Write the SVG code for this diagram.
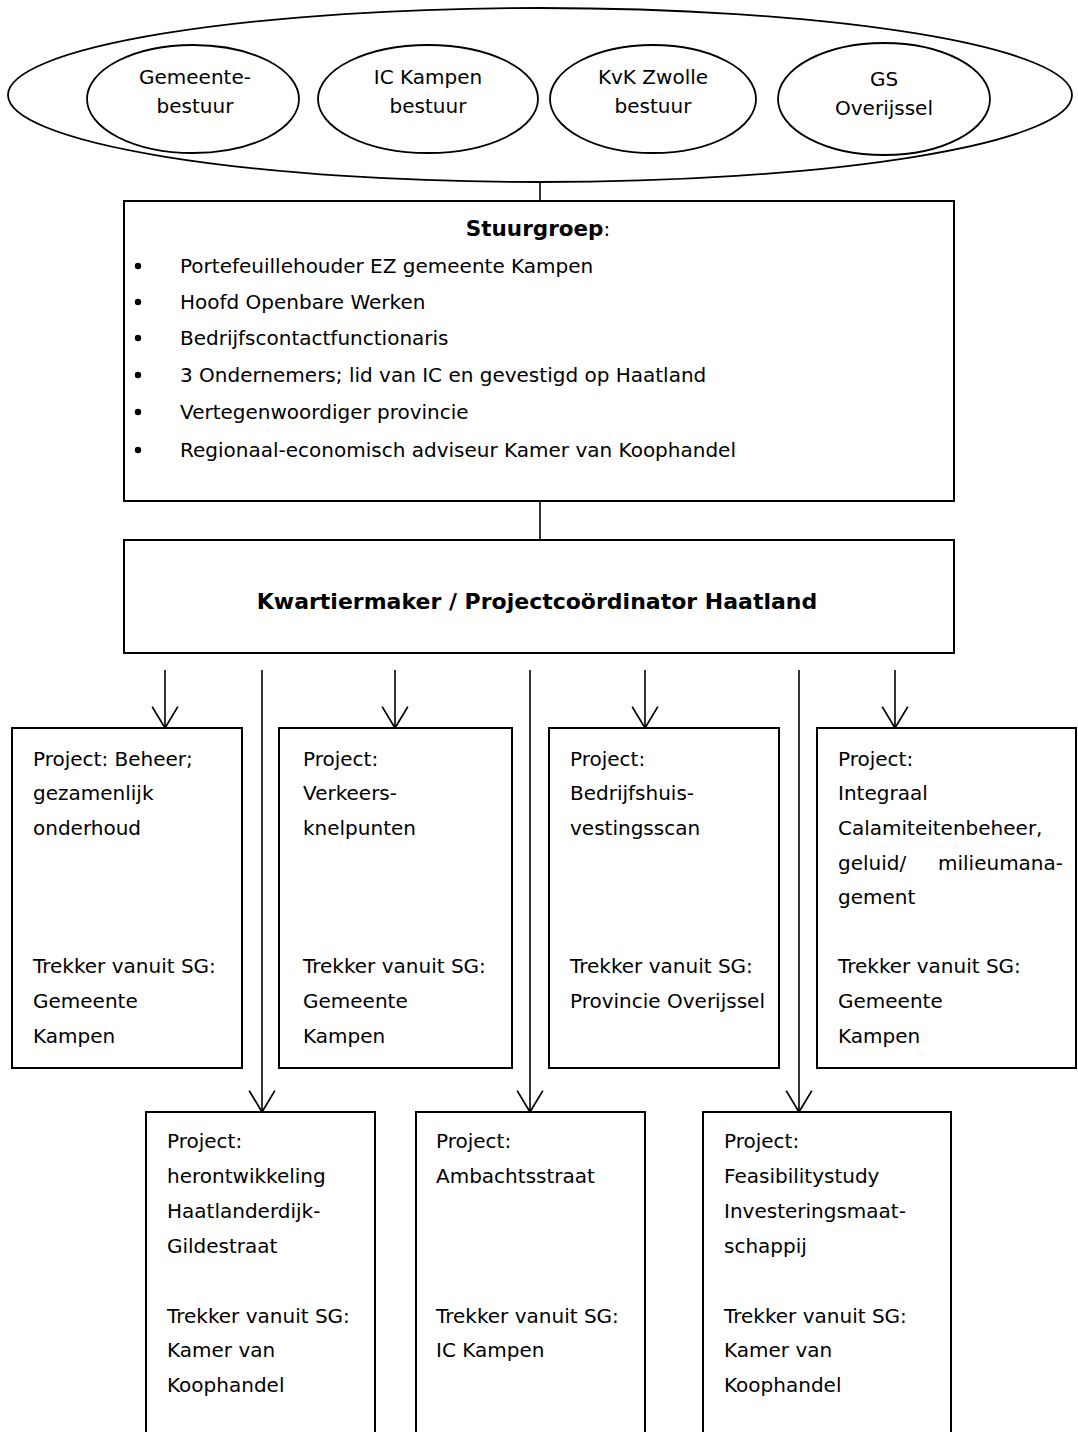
<svg xmlns="http://www.w3.org/2000/svg" width="1078" height="1432" viewBox="0 0 1078 1432">
<style>
.shape{fill:#fff;stroke:#000;stroke-width:2}
.ell{fill:none;stroke:#000;stroke-width:1.8}
.t{font-family:"DejaVu Sans",Verdana,sans-serif;font-size:20px;fill:#000}
.c{text-anchor:middle}
.b{font-weight:bold}
.h{font-size:21.5px}
.k{font-size:22px}
.con{fill:none;stroke:#000;stroke-width:1.6}
</style>
<defs>
<marker id="vee" markerUnits="userSpaceOnUse" markerWidth="30" markerHeight="30" refX="0" refY="0" orient="auto" viewBox="-22 -14 24 28" overflow="visible">
<path d="M-20,-12 L0,0 L-20,12" fill="none" stroke="#000" stroke-width="1.6"/>
</marker>
</defs>

<g id="connectors">
<line class="con" x1="540" y1="182" x2="540" y2="201"/>
<line class="con" x1="540" y1="501" x2="540" y2="540"/>
<line class="con" x1="165" y1="670" x2="165" y2="728" marker-end="url(#vee)"/>
<line class="con" x1="395" y1="670" x2="395" y2="728" marker-end="url(#vee)"/>
<line class="con" x1="645" y1="670" x2="645" y2="728" marker-end="url(#vee)"/>
<line class="con" x1="895" y1="670" x2="895" y2="728" marker-end="url(#vee)"/>
<line class="con" x1="262" y1="670" x2="262" y2="1112" marker-end="url(#vee)"/>
<line class="con" x1="530" y1="670" x2="530" y2="1112" marker-end="url(#vee)"/>
<line class="con" x1="799" y1="670" x2="799" y2="1112" marker-end="url(#vee)"/>
</g>

<g id="besturen">
<ellipse class="ell" cx="540" cy="95" rx="532" ry="87"/>
</g>
<g id="gemeentebestuur">
<ellipse class="ell" cx="193" cy="99" rx="106" ry="54"/>
<text class="t c" x="195" y="84">Gemeente-</text>
<text class="t c" x="195" y="113">bestuur</text>
</g>
<g id="ic-kampen">
<ellipse class="ell" cx="428" cy="99" rx="110" ry="54"/>
<text class="t c" x="428" y="84">IC Kampen</text>
<text class="t c" x="428" y="113">bestuur</text>
</g>
<g id="kvk-zwolle">
<ellipse class="ell" cx="653" cy="99" rx="103" ry="54"/>
<text class="t c" x="653" y="84">KvK Zwolle</text>
<text class="t c" x="653" y="113">bestuur</text>
</g>
<g id="gs-overijssel">
<ellipse class="ell" cx="884" cy="99" rx="106" ry="56"/>
<text class="t c" x="884" y="86">GS</text>
<text class="t c" x="884" y="115">Overijssel</text>
</g>

<g id="stuurgroep">
<rect class="shape" x="124" y="201" width="830" height="300" stroke-width="2.4"/>
<text class="t c" x="538" y="236"><tspan class="b h">Stuurgroep</tspan>:</text>
<g>
<circle cx="138" cy="266" r="3.2"/>
<circle cx="138" cy="302" r="3.2"/>
<circle cx="138" cy="338" r="3.2"/>
<circle cx="138" cy="375" r="3.2"/>
<circle cx="138" cy="412" r="3.2"/>
<circle cx="138" cy="450" r="3.2"/>
</g>
<text class="t" x="180" y="273">Portefeuillehouder EZ gemeente Kampen</text>
<text class="t" x="180" y="309">Hoofd Openbare Werken</text>
<text class="t" x="180" y="345">Bedrijfscontactfunctionaris</text>
<text class="t" x="180" y="382">3 Ondernemers; lid van IC en gevestigd op Haatland</text>
<text class="t" x="180" y="419">Vertegenwoordiger provincie</text>
<text class="t" x="180" y="457">Regionaal-economisch adviseur Kamer van Koophandel</text>
</g>

<g id="kwartiermaker">
<rect class="shape" x="124" y="540" width="830" height="113"/>
<text class="t c b k" x="537" y="609">Kwartiermaker / Projectcoördinator Haatland</text>
</g>

<g id="project-beheer">
<rect class="shape" x="12" y="728" width="230" height="340"/>
<text class="t" x="33" y="766">Project: Beheer;</text>
<text class="t" x="33" y="800">gezamenlijk</text>
<text class="t" x="33" y="835">onderhoud</text>
<text class="t" x="33" y="973">Trekker vanuit SG:</text>
<text class="t" x="33" y="1008">Gemeente</text>
<text class="t" x="33" y="1043">Kampen</text>
</g>
<g id="project-verkeer">
<rect class="shape" x="279" y="728" width="233" height="340"/>
<text class="t" x="303" y="766">Project:</text>
<text class="t" x="303" y="800">Verkeers-</text>
<text class="t" x="303" y="835">knelpunten</text>
<text class="t" x="303" y="973">Trekker vanuit SG:</text>
<text class="t" x="303" y="1008">Gemeente</text>
<text class="t" x="303" y="1043">Kampen</text>
</g>
<g id="project-bedrijfshuisvesting">
<rect class="shape" x="549" y="728" width="230" height="340"/>
<text class="t" x="570" y="766">Project:</text>
<text class="t" x="570" y="800">Bedrijfshuis-</text>
<text class="t" x="570" y="835">vestingsscan</text>
<text class="t" x="570" y="973">Trekker vanuit SG:</text>
<text class="t" x="570" y="1008">Provincie Overijssel</text>
</g>
<g id="project-calamiteiten">
<rect class="shape" x="817" y="728" width="259" height="340"/>
<text class="t" x="838" y="766">Project:</text>
<text class="t" x="838" y="800">Integraal</text>
<text class="t" x="838" y="835">Calamiteitenbeheer,</text>
<text class="t" x="838" y="870">geluid/</text>
<text class="t" x="938" y="870">milieumana-</text>
<text class="t" x="838" y="904">gement</text>
<text class="t" x="838" y="973">Trekker vanuit SG:</text>
<text class="t" x="838" y="1008">Gemeente</text>
<text class="t" x="838" y="1043">Kampen</text>
</g>

<g id="project-herontwikkeling">
<rect class="shape" x="146" y="1112" width="229" height="340"/>
<text class="t" x="167" y="1148">Project:</text>
<text class="t" x="167" y="1183">herontwikkeling</text>
<text class="t" x="167" y="1218">Haatlanderdijk-</text>
<text class="t" x="167" y="1253">Gildestraat</text>
<text class="t" x="167" y="1323">Trekker vanuit SG:</text>
<text class="t" x="167" y="1357">Kamer van</text>
<text class="t" x="167" y="1392">Koophandel</text>
</g>
<g id="project-ambachtsstraat">
<rect class="shape" x="416" y="1112" width="229" height="340"/>
<text class="t" x="436" y="1148">Project:</text>
<text class="t" x="436" y="1183">Ambachtsstraat</text>
<text class="t" x="436" y="1323">Trekker vanuit SG:</text>
<text class="t" x="436" y="1357">IC Kampen</text>
</g>
<g id="project-feasibility">
<rect class="shape" x="703" y="1112" width="248" height="340"/>
<text class="t" x="724" y="1148">Project:</text>
<text class="t" x="724" y="1183">Feasibilitystudy</text>
<text class="t" x="724" y="1218">Investeringsmaat-</text>
<text class="t" x="724" y="1253">schappij</text>
<text class="t" x="724" y="1323">Trekker vanuit SG:</text>
<text class="t" x="724" y="1357">Kamer van</text>
<text class="t" x="724" y="1392">Koophandel</text>
</g>
</svg>
